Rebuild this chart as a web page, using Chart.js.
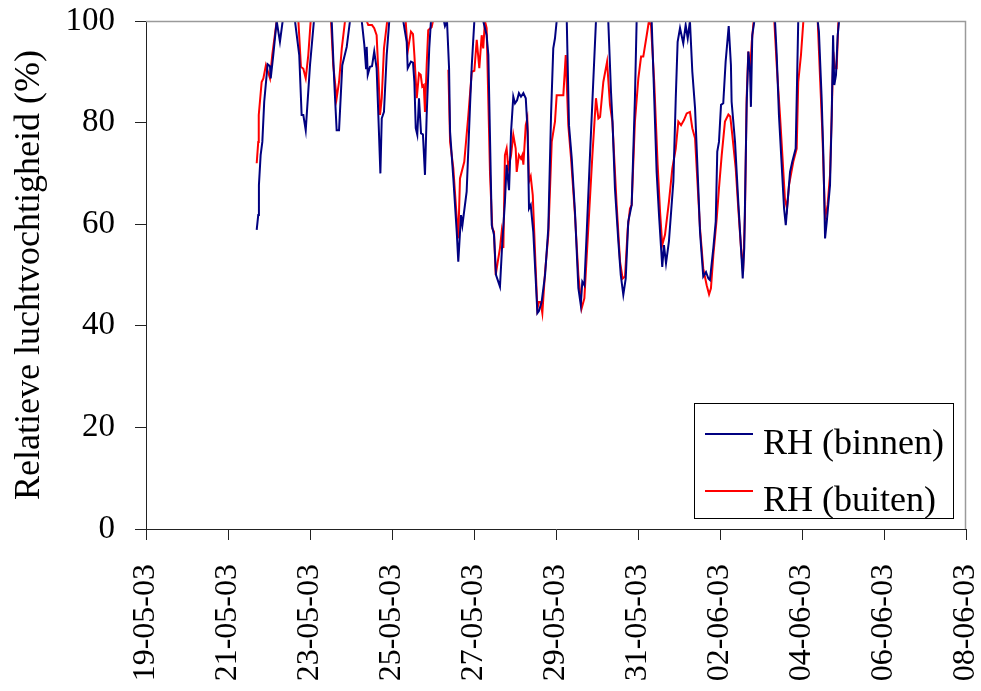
<!DOCTYPE html>
<html>
<head>
<meta charset="utf-8">
<title>Relatieve luchtvochtigheid</title>
<script src="https://cdn.jsdelivr.net/npm/chart.js@4.4.0/dist/chart.umd.min.js"></script>
<style>
    html, body { margin: 0; padding: 0; background: #ffffff; }
    #wrap { width: 981px; height: 691px; }
</style>
</head>
<body>
<div id="wrap"><canvas id="rh-chart" width="981" height="691"></canvas></div>
<script>
// uren sinds 19-05-03 00:00 en RH (%) binnen
var binnenUren = [64.8, 65.7, 66.1, 67.1, 68.1, 69.2, 71.2, 72.6, 73.0, 74.5, 76.5, 78.4, 80.0, 87.2, 89.7, 91.1, 92.1, 93.5, 96.0, 98.3,
    108.7, 110.2, 111.6, 113.0, 114.9, 117.5, 119.4, 126.3, 127.8, 128.8, 129.2, 129.8, 131.1, 132.3, 133.6, 135.0, 136.0, 137.2, 138.0, 139.3,
    140.9, 142.4, 150.6, 152.6, 153.2, 155.1, 156.3, 157.1, 157.9, 158.8, 159.8, 161.0, 162.1, 163.3, 164.3, 165.8, 166.8, 174.4, 175.0, 176.2,
    177.4, 178.0, 179.9, 181.9, 182.8, 184.4, 185.2, 187.7, 189.7, 190.7, 192.2, 197.4, 199.4, 200.4, 202.4, 203.7, 204.9, 206.2, 207.2, 208.6,
    210.1, 211.1, 212.5, 213.7, 215.0, 216.0, 217.2, 218.3, 219.5, 220.9, 222.3, 223.4, 224.2, 225.2, 226.7, 228.1, 229.1, 230.0, 231.6, 233.6,
    235.5, 237.1, 238.4, 239.4, 240.4, 246.3, 247.6, 249.2, 251.1, 253.1, 254.5, 255.4, 256.6, 258.0, 259.9, 261.8, 263.4, 270.6, 272.2, 273.1,
    274.5, 276.5, 277.9, 279.4, 280.8, 282.3, 284.3, 286.2, 287.2, 296.0, 297.5, 298.9, 300.3, 302.2, 303.2, 304.4, 306.1, 308.7, 310.1, 311.2,
    312.6, 314.5, 315.9, 317.1, 318.4, 319.8, 321.4, 323.3, 324.3, 326.2, 327.8, 329.2, 330.1, 332.1, 333.5, 334.4, 335.4, 336.6, 337.9, 339.3,
    341.1, 342.4, 342.8, 344.8, 346.7, 348.3, 349.3, 350.2, 351.6, 352.6, 353.6, 354.1, 354.9, 356.1, 368.2, 369.2, 370.5, 372.1, 373.5, 374.5,
    375.6, 377.0, 378.3, 380.3, 381.1, 381.8, 393.2, 393.9, 395.5, 396.5, 397.5, 398.5, 400.4, 401.4, 402.2, 402.9, 403.9, 404.9, 405.7];
var binnenRH = [58.9, 61.8, 67.7, 73.6, 76.2, 84.1, 91.5, 91.1, 88.7, 93.3, 100, 95.9, 100, 100, 93.3, 81.5, 81.5, 78.5, 91.3, 100,
    100, 88.0, 78.5, 78.5, 91.3, 94.9, 100, 100, 95.3, 90.7, 94.9, 89.4, 91.0, 91.1, 94.0, 90.7, 81.5, 70.0, 80.8, 82.1,
    93.3, 100, 100, 95.9, 90.7, 92.0, 91.8, 88.0, 78.9, 77.6, 84.8, 77.9, 77.7, 69.7, 81.5, 94.6, 100, 100, 99.0, 100,
    90.7, 78.2, 69.0, 58.5, 52.6, 61.8, 59.8, 66.4, 83.5, 91.3, 100, 100, 97.2, 93.3, 59.8, 57.9, 50.0, 48.7, 47.7, 56.6,
    64.4, 71.7, 66.7, 78.2, 85.1, 83.8, 84.4, 85.8, 85.1, 85.8, 84.8, 78.2, 63.1, 63.8, 58.5, 49.3, 42.5, 42.9, 44.7, 50.0,
    59.2, 81.5, 94.6, 96.6, 100, 100, 79.5, 73.0, 62.5, 47.4, 44.1, 48.7, 48.0, 58.5, 73.6, 88.0, 100, 100, 86.0, 80.0,
    67.1, 56.6, 50.0, 46.1, 49.3, 60.5, 63.8, 84.8, 100, 100, 84.8, 70.3, 61.8, 51.6, 55.9, 52.3, 56.6, 68.4, 84.8, 95.9,
    98.6, 95.6, 99.2, 96.6, 100, 90.0, 82.8, 67.1, 58.5, 49.7, 50.6, 49.3, 49.0, 55.3, 60.5, 74.3, 76.2, 83.5, 83.8, 92.0,
    99.0, 91.3, 84.1, 76.2, 64.4, 55.3, 49.3, 55.3, 83.5, 94.0, 90.0, 83.1, 97.2, 100, 100, 93.3, 81.5, 71.7, 63.1, 59.8,
    64.4, 70.3, 72.3, 74.9, 88.0, 100, 100, 97.9, 84.8, 73.6, 57.2, 60.5, 67.7, 81.5, 97.2, 87.4, 89.4, 97.2, 100];

// uren sinds 19-05-03 00:00 en RH (%) buiten (null = ontbrekende meting)
var buitenUren = [64.8, 65.7, 66.0, 67.7, 68.7, 70.2, 71.4, 72.6, 73.9, 76.5, 89.2, 90.7, 92.1, 93.5, 95.0, 96.4, 108.3, 109.6, 111.6, 113.0,
    114.6, 116.5, 129.2, 130.1, 132.3, 133.6, 135.0, 136.0, 137.0, 138.0, 139.3, 141.2, 152.0, 153.2, 154.1, 155.1, 156.3, 157.1, 158.5, 159.8,
    160.8, 161.7, 162.6, 163.3, 164.3, 165.2, 167.2, 168.0, 175.6, 176.5, 177.0, 178.0, 179.9, 181.9, 182.8, 183.8, 186.3, 188.7, 190.7, 192.2,
    193.6, 195.1, 196.5, 197.4, 198.4, 199.4, 201.4, 202.7, 203.7, 204.7, 205.9, 207.2, 208.2, 209.2, 210.1, 211.1, 212.1, 213.7, 215.0, 216.4,
    217.0, 218.3, 219.5, 220.3, 220.9, 222.3, 223.2, 224.2, 225.2, 226.4, 228.1, 229.1, 230.0, 231.0, 232.0, 233.6, 235.5, 237.5, 239.4, 240.4,
    244.3, 245.7, 247.2, 248.8, 251.1, 253.1, 255.0, 256.6, 258.9, 261.3, 263.4, 264.8, 265.8, 267.7, 269.9, 271.6, 273.0, 275.5, 277.5, 279.0,
    280.4, 282.0, 283.3, 284.3, 286.2, 288.2, 289.8, 291.1, 293.1, 294.4, 295.6, 297.5, 299.5, 300.9, 302.2, 303.8, 306.1, 308.1, 310.1, 311.6,
    313.2, 314.9, 316.5, 318.4, 319.8, 321.4, 322.9, 324.3, 326.2, 328.2, 329.6, 330.7, 332.1, 334.1, 335.4, 337.0, 338.9, 340.9, 342.0, 343.2,
    345.2, 346.7, 348.3, 349.5, 350.6, 351.6, 352.6, 353.6, 354.6, 355.7, 367.8, 369.2, 371.1, 372.5, 374.0, 375.2, 376.4, 378.9, 380.9, 381.8,
    383.4, 384.8, 393.2, 394.5, 395.9, 397.5, 399.0, 400.4, 401.4, 402.3, 403.3, 404.3, 405.3];
var buitenRH = [72.0, 76.2, 81.5, 88.0, 88.7, 91.3, 90.0, 88.7, 93.3, 100, 100, 91.0, 90.6, 88.7, 93.3, 100, 100, 91.3, 84.8, 88.0,
    94.6, 100, 100, 99.2, 99.2, 98.6, 97.2, 90.0, 81.5, 84.8, 94.6, 100, 100, 94.0, 95.9, 97.9, 97.4, 93.3, 84.8, 89.7,
    89.4, 87.1, 87.4, 82.1, 91.3, 98.2, 98.8, 100, 100, null, 90.4, 76.2, 71.0, 61.2, 57.2, 69.0, 72.3, 81.5, 90.0, 90.2,
    96.3, 90.7, 97.2, 94.6, 100, 98.6, 69.7, 59.2, 58.5, 50.0, 52.6, 55.3, 58.5, 55.3, 73.6, 74.9, 71.0, 73.6, 77.6, 74.9,
    70.3, 73.6, 72.9, 73.6, 71.7, 79.5, 80.8, 68.4, 69.4, 65.7, 51.3, 43.4, 44.7, 44.7, 42.5, 50.6, 57.9, 76.2, 80.2, 85.4,
    85.4, 93.3, 79.5, 73.0, 61.8, 50.0, 43.4, 45.4, 59.2, 73.6, 84.8, 80.8, 81.1, 88.0, 92.0, 83.5, 80.2, 63.8, 52.6, 49.3,
    49.7, 59.2, 63.1, 63.8, 80.2, 88.7, 93.0, 93.0, 97.2, 100, 99.2, 88.0, 71.7, 62.5, 55.9, 57.9, 64.4, 71.0, 74.9, 80.2,
    79.5, 80.5, 81.8, 82.1, 78.9, 76.9, 67.7, 59.2, 51.3, 48.0, 46.2, 47.4, 53.9, 61.2, 67.1, 73.6, 80.2, 81.6, 81.2, 77.6,
    71.0, 63.1, 55.3, 50.6, 61.8, 84.8, 94.0, 90.0, 95.9, 100, 100, 91.3, 81.5, 73.6, 65.0, 63.1, 67.7, 72.3, 74.9, 88.0,
    93.3, 100, 100, 89.4, 78.2, 61.2, 63.8, 69.7, 81.5, 94.0, 90.7, 90.7, 100];

// labels van de x-as (elke 2 dagen)
var datumLabels = ['19-05-03', '21-05-03', '23-05-03', '25-05-03', '27-05-03', '29-05-03',
    '31-05-03', '02-06-03', '04-06-03', '06-06-03', '08-06-03'];
var yTicks = [0, 20, 40, 60, 80, 100];

var serif = "'Liberation Serif', 'Times New Roman', serif";

// uren + waarden naar {x: dag, y: RH}
function maakPunten(uren, waarden) {
    var punten = [];
    for (var i = 0; i < uren.length; i++) {
        punten.push({ x: uren[i] / 24, y: waarden[i] });
    }
    return punten;
}

// grijze kader boven/rechts, na de lijnen getekend
var kaderPlugin = {
    id: 'kader',
    afterDatasetsDraw: function (chart) {
        let ctx = chart.ctx;
        let a = chart.chartArea;
        ctx.save();
        ctx.strokeStyle = '#9a9a9a';
        ctx.lineWidth = 1.5;
        ctx.beginPath();
        ctx.moveTo(a.left, a.top + 0.5);
        ctx.lineTo(a.right - 0.5, a.top + 0.5);
        ctx.lineTo(a.right - 0.5, a.bottom);
        ctx.stroke();
        ctx.restore();
    }
};

// legenda rechtsonder in het grafiekvlak
var legendaPlugin = {
    id: 'legenda',
    afterDraw: function (chart) {
        let ctx = chart.ctx;
        let a = chart.chartArea;
        let w = 259, h = 115;
        let x0 = a.right - 13 - w;
        let y0 = a.bottom - 11 - h;
        ctx.save();
        ctx.fillStyle = '#ffffff';
        ctx.fillRect(x0, y0, w, h);
        ctx.strokeStyle = '#000000';
        ctx.lineWidth = 1;
        ctx.strokeRect(x0 + 0.5, y0 + 0.5, w, h);
        ctx.font = '36px ' + serif;
        ctx.textBaseline = 'alphabetic';
        ctx.textAlign = 'left';
        chart.data.datasets.forEach(function (ds, i) {
            let ly = y0 + 31 + i * 57;
            ctx.strokeStyle = ds.borderColor;
            ctx.lineWidth = 2;
            ctx.beginPath();
            ctx.moveTo(x0 + 11, ly);
            ctx.lineTo(x0 + 59, ly);
            ctx.stroke();
            ctx.fillStyle = '#000000';
            ctx.fillText(ds.label, x0 + 69, ly + 20);
        });
        ctx.restore();
    }
};

let ctx = document.getElementById('rh-chart').getContext('2d');

new Chart(ctx, {
    type: 'line',
    data: {
        datasets: [{
            label: 'RH (binnen)',
            data: maakPunten(binnenUren, binnenRH),
            borderColor: '#000080',
            backgroundColor: '#000080',
            borderWidth: 2,
            pointRadius: 0,
            tension: 0,
            spanGaps: false
        }, {
            label: 'RH (buiten)',
            data: maakPunten(buitenUren, buitenRH),
            borderColor: '#ff0000',
            backgroundColor: '#ff0000',
            borderWidth: 2,
            pointRadius: 0,
            tension: 0,
            spanGaps: false
        }]
    },
    options: {
        responsive: false,
        animation: false,
        devicePixelRatio: 1,
        layout: {
            padding: { top: 21, right: 15, bottom: 0, left: 0 }
        },
        plugins: {
            legend: { display: false },
            tooltip: { enabled: false }
        },
        scales: {
            x: {
                type: 'linear',
                min: 0,
                max: 20,
                grid: {
                    drawOnChartArea: false,
                    tickLength: 11,
                    tickColor: '#222222'
                },
                border: { display: true, color: '#222222', width: 1 },
                ticks: {
                    stepSize: 2,
                    autoSkip: false,
                    minRotation: 90,
                    maxRotation: 90,
                    padding: 24,
                    color: '#000000',
                    font: { family: serif, size: 32 },
                    callback: function (value) {
                        return datumLabels[Math.round(value / 2)];
                    }
                },
                afterFit: function (scale) {
                    scale.height = 162;
                    scale.paddingLeft = 0;
                    scale.paddingRight = 0;
                }
            },
            y: {
                min: 0,
                max: 100,
                grid: {
                    drawOnChartArea: false,
                    tickLength: 11,
                    tickColor: '#222222'
                },
                border: { display: true, color: '#222222', width: 1 },
                ticks: {
                    stepSize: 20,
                    padding: 20,
                    color: '#000000',
                    font: { family: serif, size: 33 },
                    callback: function (value) {
                        return yTicks.indexOf(value) >= 0 ? String(value) : '';
                    }
                },
                title: {
                    display: true,
                    text: 'Relatieve luchtvochtigheid (%)',
                    color: '#000000',
                    font: { family: serif, size: 36 },
                    padding: { top: 8, bottom: 0 }
                },
                afterFit: function (scale) {
                    scale.width = 146;
                    scale.paddingTop = 0;
                    scale.paddingBottom = 0;
                }
            }
        }
    },
    plugins: [kaderPlugin, legendaPlugin]
});
</script>
</body>
</html>
